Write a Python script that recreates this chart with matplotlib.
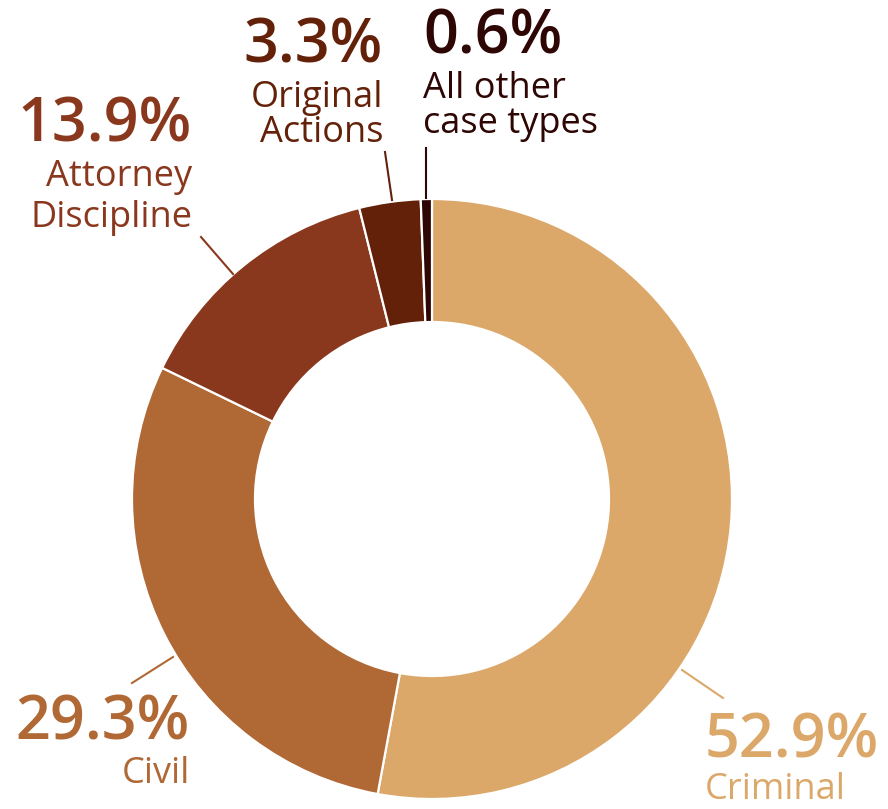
import matplotlib.pyplot as plt

# data
categories = ["Criminal", "Civil", "Attorney\nDiscipline", "Original\nActions", "All other\ncase types"]
shares = [52.9, 29.3, 13.9, 3.3, 0.6]
pct_labels = ["52.9%", "29.3%", "13.9%", "3.3%", "0.6%"]
colors = ["#DBA86A", "#B06835", "#8A381D", "#64210A", "#2E0604"]

W, H = 888, 809
CX, CY, R, RIN = 432, 499, 300, 177

plt.rcParams['font.family'] = ['Open Sans', 'DejaVu Sans']

fig = plt.figure(figsize=(W / 100, H / 100), dpi=100)
ax = fig.add_axes([0, 0, 1, 1])

ax.pie(shares, colors=colors, startangle=90, counterclock=False,
       center=(CX, H - CY), radius=R, frame=True,
       wedgeprops=dict(width=R - RIN, edgecolor='white', linewidth=1.6))
ax.set_xlim(0, W)
ax.set_ylim(0, H)
ax.set_aspect('equal')
ax.axis('off')

# label placement: (x, pct baseline, name first baseline, line gap, align, leader line px)
layout = [
    (705, 757, 799, 0, 'left', ((682, 670), (723, 698))),
    (190, 739, 783, 0, 'right', ((132, 683), (173, 657))),
    (192, 141, 186, 41, 'right', ((201, 237), (233, 274))),
    (383, 62, 107, 35, 'right', ((385, 152), (392, 200))),
    (423, 53, 98, 35, 'left', ((426, 148), (426, 198))),
]

for (x, yb, ynb, gap, ha, line), pct, name, c in zip(layout, pct_labels, categories, colors):
    ax.text(x, H - yb, pct, color=c, fontsize=44, fontweight='semibold',
            ha=ha, va='baseline')
    for i, ln in enumerate(name.split("\n")):
        ax.text(x, H - (ynb + i * gap), ln, color=c, fontsize=26,
                ha=ha, va='baseline')
    (x0, y0), (x1, y1) = line
    ax.plot([x0, x1], [H - y0, H - y1], color=c, lw=1.5)

plt.savefig("out.png", dpi=100, facecolor='white')
